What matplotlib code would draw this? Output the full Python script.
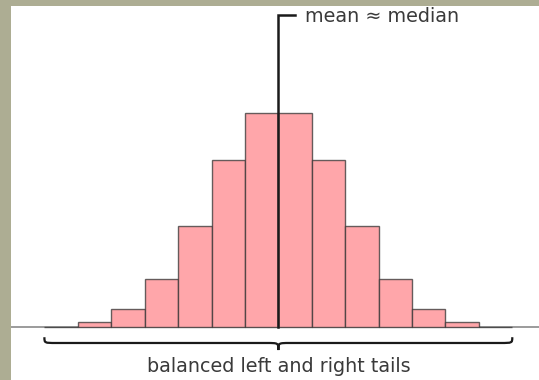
import matplotlib
matplotlib.use("Agg")
import matplotlib.pyplot as plt
import numpy as np
from matplotlib.path import Path
from matplotlib.patches import PathPatch

# histogram of a symmetric distribution (relative heights, peak = 100)
bin_edges = np.arange(-7, 8, 1.0)
heights = [0, 2, 8, 22, 47, 78, 100, 100, 78, 47, 22, 8, 2, 0]
center_label = "mean \u2248 median"
tails_label = "balanced left and right tails"

fig = plt.figure(figsize=(5.39, 3.80), dpi=100)
fig.patch.set_facecolor("#adad93")
ax = fig.add_axes([11 / 539, 0, 528 / 539, 374 / 380])
ax.set_facecolor("white")
ax.set_xlim(-8.0, 7.8)
ax.set_ylim(-25, 149.8)
for spine in ax.spines.values():
    spine.set_visible(False)
ax.set_xticks([])
ax.set_yticks([])

# baseline
ax.axhline(0, color="#8a8a8a", linewidth=1.2, zorder=1)

# bars
centers = (bin_edges[:-1] + bin_edges[1:]) / 2
ax.bar(centers, heights, width=1.0, color="#ffa6aa",
       edgecolor=(0.2, 0.2, 0.2, 0.75), linewidth=1.0, zorder=2)

# mean / median marker
ax.plot([0, 0, 0.5], [0, 145.6, 145.6], color="#1a1a1a", linewidth=1.8,
        solid_joinstyle="miter", zorder=3)
ax.text(0.8, 145.0, center_label, ha="left", va="center", fontsize=13.8,
        color="#3a3a3a", family="DejaVu Sans")


def brace(ax, x0, x1, y_end, y_mid, y_tip, r=0.35):
    xm = (x0 + x1) / 2
    verts = [
        (x0, y_end), (x0, y_mid), (x0, y_mid), (x0 + r, y_mid),
        (xm - r, y_mid),
        (xm, y_mid), (xm, y_mid), (xm, y_tip),
        (xm, y_mid), (xm, y_mid), (xm + r, y_mid),
        (x1 - r, y_mid),
        (x1, y_mid), (x1, y_mid), (x1, y_end),
    ]
    codes = [Path.MOVETO, Path.CURVE4, Path.CURVE4, Path.CURVE4,
             Path.LINETO,
             Path.CURVE4, Path.CURVE4, Path.CURVE4,
             Path.CURVE4, Path.CURVE4, Path.CURVE4,
             Path.LINETO,
             Path.CURVE4, Path.CURVE4, Path.CURVE4]
    ax.add_patch(PathPatch(Path(verts, codes), facecolor="none",
                           edgecolor="#1a1a1a", linewidth=1.6, zorder=3))


brace(ax, bin_edges[0], bin_edges[-1], -5.0, -7.7, -11.0)
ax.text(0, -18.8, tails_label, ha="center", va="center", fontsize=13.8,
        color="#3a3a3a", family="DejaVu Sans")

fig.savefig("out.png", dpi=100, facecolor=fig.get_facecolor())
